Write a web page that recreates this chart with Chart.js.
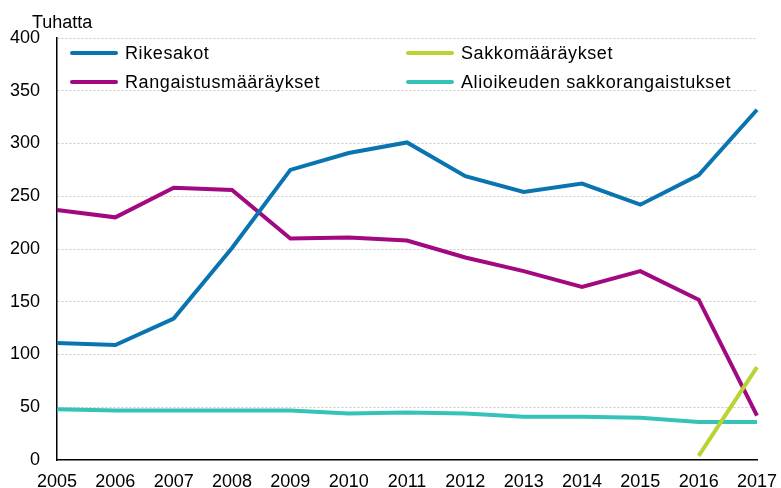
<!DOCTYPE html>
<html>
<head>
<meta charset="utf-8">
<script src="https://cdn.jsdelivr.net/npm/chart.js@4"></script>
<style>
  body { margin: 0; background: #fff; }
</style>
</head>
<body>
<canvas id="chart" width="781" height="488"></canvas>
<script>
const years = ["2005", "2006", "2007", "2008", "2009", "2010", "2011", "2012", "2013", "2014", "2015", "2016", "2017"];
const rikesakot = [111, 109, 134, 201, 275, 291, 301, 269, 254, 262, 242, 270, 332];
const rangaistus = [237, 230, 258, 256, 210, 211, 208, 192, 179, 164, 179, 152, 42];
const sakko = [null, null, null, null, null, null, null, null, null, null, null, 4, 88];
const alioikeus = [48, 47, 47, 47, 47, 44, 45, 44, 41, 41, 40, 36, 36];

const FONT = "Liberation Sans, Arial, sans-serif";

// legend in two columns inside the plot + unit label
const legendPlugin = {
  id: "customLegend",
  afterDraw(chart) {
    const ctx = chart.ctx;
    const ds = chart.data.datasets;
    const spots = [
      { i: 0, x: 72, y: 53 },
      { i: 2, x: 72, y: 82 },
      { i: 1, x: 408, y: 53 },
      { i: 3, x: 408, y: 82 },
    ];
    ctx.save();
    ctx.font = "18px " + FONT;
    ctx.textBaseline = "middle";
    spots.forEach(function (s) {
      ctx.strokeStyle = ds[s.i].borderColor;
      ctx.lineWidth = 4;
      ctx.lineCap = "round";
      ctx.beginPath();
      ctx.moveTo(s.x, s.y);
      ctx.lineTo(s.x + 44, s.y);
      ctx.stroke();
      ctx.fillStyle = "#000";
      ctx.letterSpacing = "0.6px";
      ctx.fillText(ds[s.i].label, s.x + 53, s.y + 1);
      ctx.letterSpacing = "0px";
    });
    ctx.textBaseline = "alphabetic";
    ctx.fillText("Tuhatta", 32, 28);
    ctx.restore();
  },
};

new Chart(document.getElementById("chart").getContext("2d"), {
  type: "line",
  data: {
    labels: years,
    datasets: [
      { label: "Rikesakot", data: rikesakot, borderColor: "#0a74b1" },
      { label: "Sakkomääräykset", data: sakko, borderColor: "#b7d433" },
      { label: "Rangaistusmääräykset", data: rangaistus, borderColor: "#a2087f" },
      { label: "Alioikeuden sakkorangaistukset", data: alioikeus, borderColor: "#37c2b9" },
    ],
  },
  options: {
    responsive: false,
    animation: false,
    layout: { padding: { top: 38, right: 24, left: 0, bottom: 0 } },
    elements: {
      line: { borderWidth: 4, tension: 0, borderCapStyle: "butt" },
      point: { radius: 0 },
    },
    plugins: {
      legend: { display: false },
      tooltip: { enabled: false },
    },
    scales: {
      x: {
        offset: false,
        grid: { display: false },
        border: { color: "#000", width: 1.5 },
        ticks: { color: "#000", font: { family: FONT, size: 18 }, padding: 3, maxRotation: 0 },
        afterFit(scale) { scale.height = 28; },
      },
      y: {
        min: 0,
        max: 400,
        grid: {
          color: function (c) { return c.tick.value === 0 ? "rgba(0,0,0,0)" : "#c8c8c8"; },
          drawTicks: false,
        },
        border: { color: "#000", width: 1.5, dash: [2, 2] },
        ticks: { stepSize: 50, color: "#000", font: { family: FONT, size: 18 }, padding: 17 },
        afterFit(scale) { scale.width = 57; },
      },
    },
  },
  plugins: [legendPlugin],
});
</script>
</body>
</html>
